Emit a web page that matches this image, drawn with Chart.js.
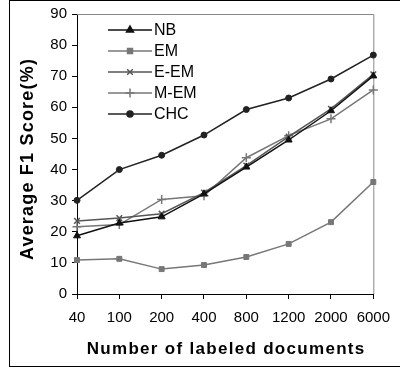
<!DOCTYPE html>
<html>
<head>
<meta charset="utf-8">
<script src="https://cdn.jsdelivr.net/npm/chart.js@4"></script>
<style>
  body { margin: 0; background: #fff; }
  #wrap { position: relative; width: 400px; height: 370px; }
  #frame { position: absolute; left: 9px; top: 0; width: 400px; height: 365px;
           border-left: 1px solid #000; border-top: 1px solid #000; border-bottom: 1px solid #000; }
  canvas { position: absolute; left: 0; top: 0; }
</style>
</head>
<body>
<div id="wrap">
  <div id="frame"></div>
  <canvas id="myChart" width="400" height="370"></canvas>
</div>
<script>
// data
const categories = ["40", "100", "200", "400", "800", "1200", "2000", "6000"];
const nb   = [18.7, 22.8, 24.8, 32.2, 40.8, 49.5, 58.9, 70.1];
const em   = [10.9, 11.3, 8.0, 9.3, 11.9, 16.1, 23.1, 36.0];
const eem  = [23.5, 24.4, 25.8, 32.6, 41.3, 50.6, 59.5, 70.6];
const mem  = [21.6, 22.3, 30.4, 31.6, 43.8, 50.9, 56.3, 65.6];
const chc  = [30.1, 40.0, 44.6, 51.1, 59.3, 63.0, 69.1, 76.8];
const yTicks = [0, 10, 20, 30, 40, 50, 60, 70, 80, 90];
const xTitle = "Number of labeled documents";
const yTitle = "Average F1 Score(%)";

const FONT = "Arial, 'Liberation Sans', sans-serif";

function series(label, data, color, style, radius) {
  return {
    label: label, data: data,
    borderColor: color, backgroundColor: color,
    borderWidth: 1.5, pointStyle: style, pointRadius: radius,
    pointBorderWidth: style === "cross" || style === "crossRot" ? 1.5 : 1,
    pointBorderColor: color, pointBackgroundColor: color,
    fill: false, tension: 0
  };
}

// legend drawn like the original: short line with marker in the middle
const lineLegend = {
  id: "lineLegend",
  afterDatasetsDraw(chart) {
    const ctx = chart.ctx;
    ctx.save();
    chart.data.datasets.forEach((ds, i) => {
      const y = 30 + i * 21;
      ctx.strokeStyle = ds.borderColor;
      ctx.fillStyle = ds.borderColor;
      ctx.lineWidth = 1.5;
      ctx.beginPath();
      ctx.moveTo(108, y);
      ctx.lineTo(152, y);
      ctx.stroke();
      Chart.helpers.drawPoint(ctx, {
        pointStyle: ds.pointStyle, radius: ds.pointRadius,
        borderWidth: ds.pointBorderWidth
      }, 130, y);
      ctx.fillStyle = "#000";
      ctx.font = "16px " + FONT;
      ctx.textBaseline = "middle";
      ctx.fillText(ds.label, 154, y + 1);
    });
    ctx.restore();
  }
};

// axis titles, a bit tracked out like the original
const axisTitles = {
  id: "axisTitles",
  afterDraw(chart) {
    const ctx = chart.ctx, a = chart.chartArea;
    ctx.save();
    ctx.fillStyle = "#000";
    ctx.textAlign = "center";
    ctx.textBaseline = "alphabetic";
    ctx.font = "bold 17px " + FONT;
    ctx.letterSpacing = "1.3px";
    ctx.fillText(xTitle, (a.left + a.right) / 2 + 1, 354);
    ctx.translate(33, 159);
    ctx.rotate(-Math.PI / 2);
    ctx.font = "bold 18px " + FONT;
    ctx.letterSpacing = "1.2px";
    ctx.fillText(yTitle, 0, 0);
    ctx.restore();
  }
};

// gray top/right frame of plot area
const plotFrame = {
  id: "plotFrame",
  beforeDatasetsDraw(chart) {
    const a = chart.chartArea, ctx = chart.ctx;
    ctx.save();
    ctx.strokeStyle = "#888";
    ctx.lineWidth = 1;
    ctx.beginPath();
    ctx.moveTo(a.left, a.top + 0.5);
    ctx.lineTo(a.right + 0.5, a.top + 0.5);
    ctx.lineTo(a.right + 0.5, a.bottom);
    ctx.stroke();
    ctx.restore();
  }
};

const ctx = document.getElementById("myChart").getContext("2d");
const myChart = new Chart(ctx, {
  type: "line",
  data: {
    labels: categories,
    datasets: [
      series("NB", nb, "#111", "triangle", 4),
      series("EM", em, "#777", "rect", 3.5),
      series("E-EM", eem, "#555", "crossRot", 4),
      series("M-EM", mem, "#777", "cross", 4.5),
      series("CHC", chc, "#222", "circle", 3)
    ]
  },
  options: {
    responsive: false,
    animation: false,
    layout: { padding: { left: 0, top: 13, right: 18, bottom: 0 } },
    plugins: { legend: { display: false }, tooltip: { enabled: false } },
    scales: {
      x: {
        offset: false,
        grid: { drawOnChartArea: false, color: "#000", tickLength: 5 },
        border: { color: "#000", width: 1 },
        ticks: { color: "#000", font: { family: FONT, size: 15 }, padding: 10, maxRotation: 0, autoSkip: false },
        afterFit(axis) { axis.height = 76; }
      },
      y: {
        min: 0, max: 90,
        afterBuildTicks(axis) { axis.ticks = yTicks.map(v => ({ value: v })); },
        grid: { drawOnChartArea: false, color: "#000", tickLength: 5 },
        border: { color: "#000", width: 1 },
        ticks: { color: "#000", font: { family: FONT, size: 15 }, padding: 5 },
        afterFit(axis) { axis.width = 77; }
      }
    }
  },
  plugins: [plotFrame, lineLegend, axisTitles]
});
</script>
</body>
</html>
